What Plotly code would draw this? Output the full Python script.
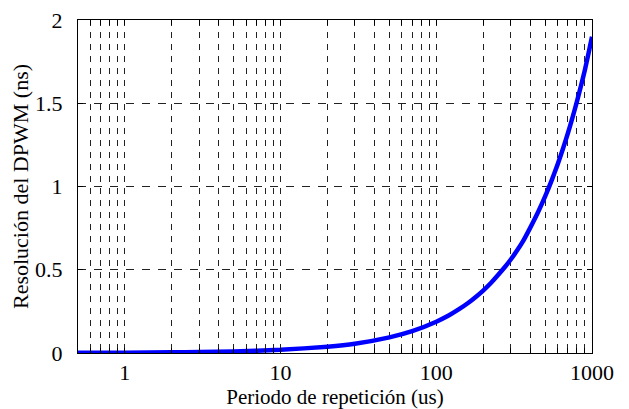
import plotly.graph_objects as go

# Data
periodo_us = [0.5, 1, 2, 3, 5, 10, 20, 30, 50, 70, 100, 120, 140, 160, 180, 200, 225, 250,
              275, 300, 330, 360, 400, 450, 500, 550, 600, 650, 700, 750, 800, 850,
              900, 950, 1000]
resolucion_ns = [0.001, 0.002, 0.004, 0.006, 0.009, 0.019, 0.038, 0.056, 0.094, 0.131,
                 0.188, 0.225, 0.263, 0.30, 0.338, 0.375, 0.422, 0.47, 0.515, 0.56,
                 0.615, 0.67, 0.75, 0.845, 0.94, 1.035, 1.13, 1.225, 1.32, 1.415,
                 1.51, 1.605, 1.70, 1.80, 1.90]

major_x = [1, 10, 100, 1000]
x_grid_vals = [0.5, 0.6, 0.7, 0.8, 0.9, 1, 2, 3, 4, 5, 6, 7, 8, 9, 10,
               20, 30, 40, 50, 60, 70, 80, 90, 100,
               200, 300, 400, 500, 600, 700, 800, 900, 1000]
x_grid_text = [str(v) if v in major_x else "" for v in x_grid_vals]
y_ticks = [0, 0.5, 1, 1.5, 2]
y_text = ["0", "0.5", "1", "1.5", "2"]

fig = go.Figure()
fig.add_trace(go.Scatter(x=periodo_us, y=resolucion_ns, mode="lines",
                         line=dict(color="#0000ff", width=4.5, shape="spline", smoothing=0.5),
                         showlegend=False))

font_family = "Liberation Serif, Times New Roman, serif"
fig.update_layout(
    width=621, height=401,
    margin=dict(l=70, r=37, t=12, b=56),
    paper_bgcolor="white", plot_bgcolor="white",
    font=dict(family=font_family, size=22, color="black"),
    xaxis=dict(
        type="log", range=[-0.30103, 3], automargin=False,
        tickvals=x_grid_vals, ticktext=x_grid_text, ticklabeloverflow="allow",
        ticks="inside", ticklen=5, tickcolor="black", ticklabelstandoff=0,
        showline=True, linecolor="black", linewidth=1, mirror="ticks",
        showgrid=True, gridcolor="#222", gridwidth=1, griddash="6px,6px",
        zeroline=False,
        title=dict(text="Periodo de repetición (us)", font=dict(family=font_family, size=21), standoff=0),
    ),
    yaxis=dict(
        range=[0, 2], automargin=False,
        tickvals=y_ticks, ticktext=y_text, ticklabeloverflow="allow",
        ticks="inside", ticklen=5, tickcolor="black", ticklabelstandoff=10,
        showline=True, linecolor="black", linewidth=1, mirror="ticks",
        showgrid=True, gridcolor="#222", gridwidth=1, griddash="8px,8px",
        zeroline=False,
        title=dict(text="Resolución del DPWM (ns)", font=dict(family=font_family, size=22), standoff=2),
    ),
)
fig.write_html("out.html")
